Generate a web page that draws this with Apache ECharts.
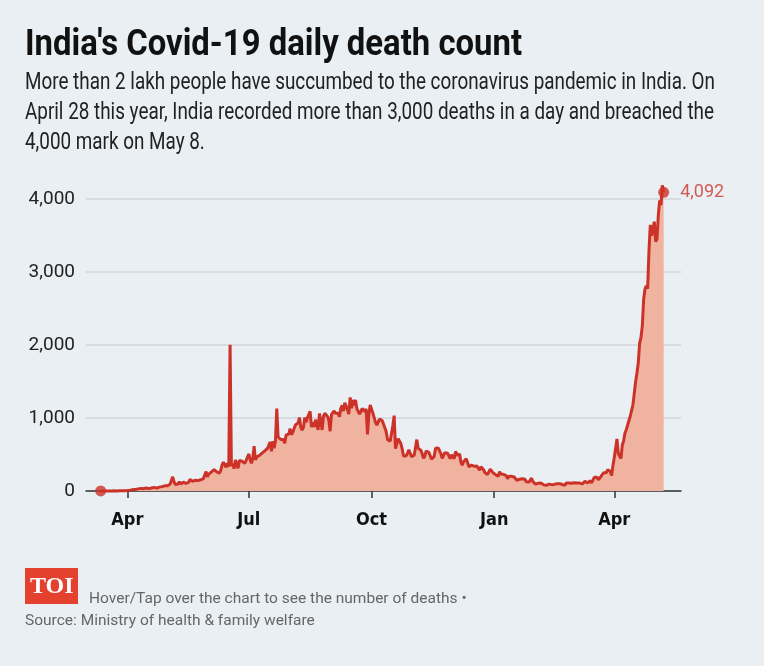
<!DOCTYPE html>
<html><head><meta charset="utf-8">
<script src="https://cdn.jsdelivr.net/npm/echarts@6/dist/echarts.min.js"></script>
<style>html,body{margin:0;padding:0;background:#eaeff3;}#c{width:764px;height:666px;}</style>
</head><body><div id="c"></div>
<script>
// Daily deaths, starting 2020-03-12
const mar2020 = [1,1,0,0,0,1,0,1,1,0,3,2,1,1,3,4,5,3,5,6];
const apr2020 = [6,12,12,10,19,30,21,35,29,40,36,30,32,37,42,27,33,36,41,40,50,42,40,57,53,48,60,57,71,67];
const may2020 = [72,77,93,83,195,126,89,104,95,127,97,87,121,134,103,100,120,157,134,132,140,148,137,142,147,154,146,170,175,265,193];
const jun2020 = [230,204,260,273,294,287,261,266,246,279,357,396,386,325,380,334,2003,341,375,306,426,445,312,418,410,407,384,380,417,418];
const jul2020 = [507,434,379,442,613,425,467,482,487,475,519,500,551,553,582,606,671,543,681,587,681,1130,740,757,705,708,704,654,768,775,779];
const aug2020 = [853,771,803,857,904,886,933,1007,871,834,871,1007,942,1007,1008,1092,876,941,876,977,983,836,1063,1040,836,1023,1065,1059,1021,971,819];
const sep2020 = [1045,1026,1096,1066,1089,1065,1016,1133,1172,1095,1209,1201,1114,1054,1283,1132,1247,1174,1247,1133,1130,1053,1085,1129,1141,1089,1124,776,1039,1179];
const oct2020 = [1181,1069,1095,940,903,884,986,971,964,918,918,816,706,730,680,702,895,1033,579,587,717,703,650,578,480,488,480,517,563,551,470];
const nov2020 = [470,490,508,704,584,577,559,510,447,480,548,547,530,516,435,449,474,585,584,590,576,511,447,489,524,501,518,492,443,496];
const dec2020 = [482,443,540,524,482,511,396,355,402,411,442,391,333,336,354,355,338,347,341,331,286,333,336,292,251,278,228,251,299,286,252];
const jan2021 = [256,224,217,201,264,234,222,228,227,212,168,202,219,201,175,191,175,145,137,162,151,169,163,162,127,136,123,150,175,127,132];
const feb2021 = [94,108,107,106,108,96,84,95,78,88,94,100,87,97,90,94,101,99,101,96,89,86,79,108,103,110,113,106];
const mar2021 = [106,113,98,110,113,108,99,97,77,131,126,112,131,140,112,131,188,172,188,154,165,199,212,250,275,251,291,313,271,212,354];
const apr2021 = [459,469,714,513,478,446,630,685,794,839,904,879,1027,1038,1185,1341,1501,1619,1761,2023,2104,2263,2624,2767,2812,2771,3293,3645,3498,3523];
const may2021 = [3689,3417,3449,3780,3980,3915,4187,4092];

const tickDates = ['2020-04-01','2020-07-01','2020-10-01','2021-01-01','2021-04-01'];
const tickLabels = ['Apr','Jul','Oct','Jan','Apr'];
const yTicks = [0,1000,2000,3000,4000];

const titleText = "India's Covid-19 daily death count";
const subLines = [
  "More than 2 lakh people have succumbed to the coronavirus pandemic in India. On",
  "April 28 this year, India recorded more than 3,000 deaths in a day and breached the",
  "4,000 mark on May 8."
];

const values = [].concat(mar2020,apr2020,may2020,jun2020,jul2020,aug2020,sep2020,oct2020,nov2020,dec2020,jan2021,feb2021,mar2021,apr2021,may2021);
const DAY = 86400000;
const t0 = Date.parse('2020-03-12');
const seriesData = values.map((v,i)=>[t0 + i*DAY, v]);
const tickVals = tickDates.map(d=>Date.parse(d));
const last = seriesData.length - 1;

const RED = '#cd3229';
const TITLE_FONT = "bold 37px Roboto, sans-serif";
const SUB_FONT = "23px Roboto, sans-serif";
function fitScale(text, font, target){
  const ctx = document.createElement('canvas').getContext('2d');
  ctx.font = font;
  return target / ctx.measureText(text).width;
}
const titleScale = fitScale(titleText, TITLE_FONT, 497);
const subScale = fitScale(subLines[0], SUB_FONT, 690);

const chart = echarts.init(document.getElementById('c'), null, {renderer:'canvas'});
chart.setOption({
  animation: false,
  backgroundColor: '#eaeff3',
  grid: {left: 86, right: 83, top: 199, bottom: 175, containLabel:false},
  xAxis: {
    type:'value',
    min: Date.parse('2020-03-01'), max: Date.parse('2021-05-21'),
    axisLine:{show:true, lineStyle:{color:'#333', width:1.5}},
    axisTick:{show:true, customValues: tickVals, length:7, lineStyle:{color:'#333', width:1.5}},
    axisLabel:{customValues: tickVals, margin:20, color:'#111', fontSize:18, fontWeight:'bold',
      fontFamily:"'DejaVu Sans Condensed','Roboto',sans-serif",
      formatter: function(v){ let best=0, bd=Infinity; tickVals.forEach((t,i)=>{const d=Math.abs(t-v); if(d<bd){bd=d;best=i;}}); return tickLabels[best]; }},
    splitLine:{show:false}
  },
  yAxis: {
    type:'value', min: yTicks[0], max: yTicks[yTicks.length-1], interval: 1000,
    axisLine:{show:false}, axisTick:{show:false},
    axisLabel:{margin:11, color:'#222', fontSize:19, fontFamily:"'Roboto',sans-serif",
      formatter: v => v.toLocaleString('en-US')},
    splitLine:{show:true, lineStyle:{color:'#d2d6db', width:1.5}}
  },
  series: [
    {type:'line', data: seriesData, showSymbol:false, clip:false, z:3,
     lineStyle:{color:RED, width:3}, itemStyle:{color:RED},
     areaStyle:{color:'#f0b3a0', opacity:1}},
    {type:'scatter', z:5, clip:false, symbolSize:11, itemStyle:{color:RED},
     data:[
       {value: seriesData[0]},
       {value: seriesData[last], label:{show:true, position:'right', distance:11, color:RED, fontSize:18, fontFamily:"'Roboto',sans-serif",
         formatter: p => p.value[1].toLocaleString('en-US')}}
     ]}
  ],
  graphic: [
    {type:'text', x:25, y:27, scaleX:titleScale, style:{text:titleText, fill:'#111', font:TITLE_FONT, verticalAlign:'top', align:'left'}},
    {type:'text', x:25, y:68, scaleX:subScale, style:{text:subLines.join('\n'), fill:'#222', font:SUB_FONT, lineHeight:30, verticalAlign:'top', align:'left'}},
    {type:'rect', left:25, top:568, shape:{width:53, height:36}, style:{fill:'#e4412f'}},
    {type:'text', left:30, top:575, style:{text:'TOI', fill:'#fff', font:"bold 24px 'Liberation Serif', serif"}},
    {type:'text', left:89, top:591, style:{text:'Hover/Tap over the chart to see the number of deaths •', fill:'#666', font:"15.5px 'Roboto', sans-serif"}},
    {type:'text', left:25, top:613, style:{text:'Source: Ministry of health & family welfare', fill:'#666', font:"15.5px 'Roboto', sans-serif"}}
  ]
});
</script></body></html>
